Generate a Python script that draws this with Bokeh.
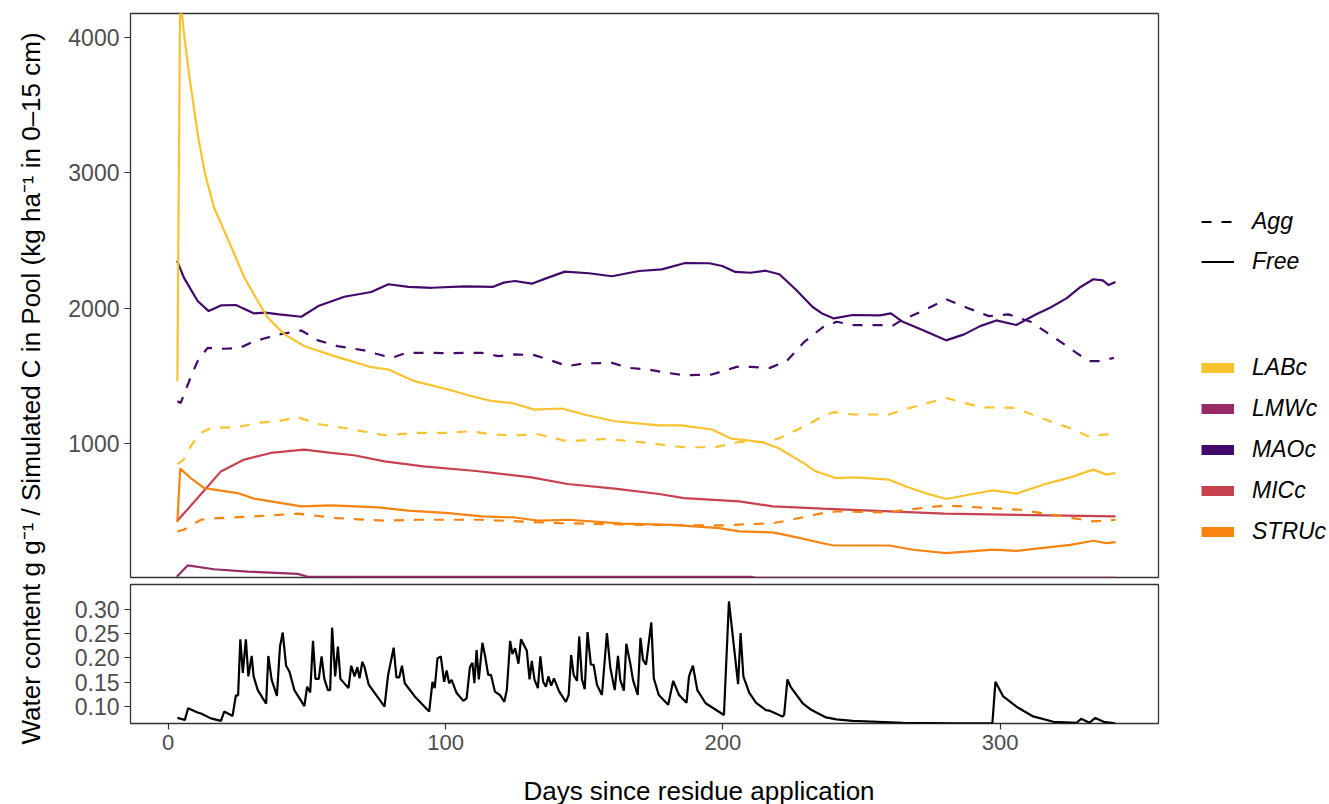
import numpy as np
from bokeh.plotting import figure
from bokeh.models import Range1d, FixedTicker, Legend, LegendItem, Label, PrintfTickFormatter
from bokeh.layouts import row, column
from bokeh.embed import file_html
from bokeh.resources import INLINE

FONT = "Liberation Sans"

# ---- simulated carbon pools (kg C ha-1, 0-15 cm) ----
labc_free_day = [3.3, 4.3, 5.7, 7.5, 10.6, 13.2, 16.5, 22.6, 27.4, 32.3, 35.9, 42.0, 49.0, 58.8, 66.0, 73.2,
                 79.4, 88.8, 101.0, 109.4, 117.0, 124.0, 132.0, 142.0, 150.0, 161.0, 177.0, 185.0, 196.0,
                 203.0, 214.0, 220.0, 229.0, 233.5, 240.7, 247.9, 260.0, 266.0, 273.0, 280.5, 290.0, 297.5,
                 305.8, 315.5, 325.3, 333.6, 338.4, 341.6]
labc_free_c = [1463, 4300, 4028, 3730, 3289, 3000, 2744, 2460, 2230, 2054, 1931, 1808, 1722, 1655, 1611, 1566,
               1549, 1463, 1401, 1352, 1315, 1302, 1253, 1261, 1217, 1167, 1137, 1137, 1106,
               1039, 1014, 970, 860, 797, 748, 753, 736, 686, 637, 593, 630, 657,
               633, 699, 753, 810, 773, 785]

labc_agg_day = [3.3, 5.6, 8.5, 11.8, 15.4, 25.0, 32.0, 39.5, 46.7, 54.0, 64.8, 78.0, 90.0, 100.0, 109.0, 116.0,
                124.0, 133.0, 144.0, 157.6, 170.0, 186.0, 197.0, 206.0, 215.0, 220.0, 230.0, 236.0, 240.0,
                247.0, 260.0, 267.5, 280.5, 293.0, 305.0, 318.0, 325.0, 332.5, 337.0, 341.0]
labc_agg_c = [851, 884, 995, 1081, 1118, 1123, 1155, 1167, 1197, 1147, 1113, 1064, 1081, 1081, 1093, 1073,
              1061, 1073, 1019, 1036, 1014, 975, 975, 1014, 1014, 1039, 1135, 1204, 1234,
              1217, 1217, 1266, 1339, 1270, 1266, 1167, 1118, 1049, 1069, 1069]

lmwc_day = [3.1, 7.0, 16.5, 28.6, 46.7, 50.0, 80.0, 150.0, 210.0, 212.0, 341.6]
lmwc_c = [20, 103, 75, 58, 41, 21, 19, 19, 18, 12, 12]

maoc_free_day = [3.2, 5.7, 10.6, 14.6, 19.0, 24.4, 27.0, 31.0, 35.0, 40.0, 48.0, 54.1, 63.5, 73.2, 79.4, 86.6,
                 95.0, 106.9, 117.0, 121.0, 125.0, 131.1, 137.0, 143.0, 151.7, 160.0, 169.8, 178.0, 186.4,
                 195.1, 199.8, 204.5, 210.0, 215.4, 220.4, 226.2, 232.4, 236.0, 240.0, 246.8, 256.6, 260.6,
                 264.9, 272.0, 280.5, 287.0, 292.8, 298.6, 305.8, 313.0, 318.0, 323.9, 329.0, 333.6, 337.0,
                 339.1, 341.6]
maoc_free_c = [2350, 2225, 2054, 1980, 2022, 2025, 2000, 1963, 1968, 1956, 1938, 2017, 2086, 2121, 2178, 2158,
               2152, 2163, 2158, 2190, 2202, 2182, 2227, 2271, 2259, 2237, 2276, 2288, 2335,
               2333, 2313, 2269, 2263, 2278, 2252, 2141, 2010, 1960, 1926, 1951, 1948, 1963,
               1901, 1840, 1764, 1808, 1869, 1911, 1877, 1956, 2005, 2074, 2158, 2215, 2207,
               2172, 2195]

maoc_agg_day = [3.3, 4.5, 8.0, 10.6, 14.2, 20.0, 26.0, 30.5, 34.6, 40.0, 48.0, 54.0, 61.0, 70.7, 75.0, 80.5,
                86.0, 91.0, 100.0, 113.0, 119.0, 125.0, 132.0, 138.0, 144.0, 150.0, 160.0, 166.0, 173.0,
                180.0, 186.0, 196.0, 205.0, 210.0, 217.0, 223.0, 229.5, 236.0, 241.0, 247.0, 258.0, 261.0,
                265.0, 272.0, 280.5, 288.0, 296.0, 303.0, 311.0, 320.0, 327.5, 332.0, 336.0, 341.0]
maoc_agg_c = [1315, 1302, 1487, 1611, 1709, 1702, 1709, 1753, 1778, 1808, 1837, 1764, 1722, 1690, 1665, 1635,
              1672, 1672, 1670, 1672, 1648, 1660, 1655, 1616, 1574, 1594, 1598, 1561, 1549,
              1524, 1507, 1512, 1568, 1568, 1561, 1611, 1755, 1860, 1901, 1877, 1877, 1869,
              1919, 1980, 2067, 2005, 1943, 1956, 1901, 1778, 1672, 1611, 1611, 1635]

micc_day = [3.3, 10.6, 19.0, 27.4, 37.0, 49.0, 58.8, 67.0, 78.0, 92.0, 111.0, 131.0, 144.0, 161.0, 177.0,
            186.0, 206.0, 218.0, 236.0, 280.0, 341.6]
micc_c = [433, 600, 797, 884, 933, 958, 933, 916, 871, 834, 800, 753, 704, 670, 630,
          600, 576, 539, 522, 485, 465]

struc_free_day = [3.3, 4.3, 8.1, 13.0, 19.0, 25.0, 31.0, 37.0, 48.0, 58.8, 75.7, 86.5, 101.0, 113.0, 125.0,
                  133.6, 144.5, 163.7, 181.7, 198.7, 206.0, 217.9, 225.1, 236.0, 240.0, 260.0, 268.6, 280.5,
                  297.5, 305.8, 325.3, 333.6, 338.4, 341.6]
struc_free_c = [423, 817, 748, 674, 655, 637, 596, 576, 539, 546, 531, 507, 489, 465, 457,
                433, 440, 411, 403, 378, 354, 347, 317, 267, 250, 250, 219, 194,
                219, 211, 255, 285, 267, 275]

struc_agg_day = [3.3, 5.6, 11.8, 17.8, 31.0, 46.7, 61.0, 78.0, 90.0, 113.0, 141.0, 170.0, 199.0, 218.0, 223.0,
                 236.0, 241.0, 260.0, 266.0, 280.5, 296.4, 307.2, 320.3, 333.6, 341.6]
struc_agg_c = [354, 366, 440, 452, 465, 485, 452, 433, 440, 440, 415, 403, 398, 415, 433,
               489, 502, 494, 514, 546, 526, 514, 472, 428, 440]

# ---- soil water content (g g-1) ----
water_day = [3.3, 6.0, 7.2, 10.6, 11.8, 15.4, 19.0, 20.2, 23.2, 24.4,
             25.2, 26.0, 26.9, 28.0, 28.9, 30.1, 30.8, 32.3, 35.3, 36.1,
             37.3, 39.2, 40.3, 41.3, 42.5, 43.7, 45.5, 49.1, 50.1, 51.2,
             52.2, 53.1, 54.3, 55.3, 56.3, 57.6, 58.4, 59.1, 60.2, 61.2,
             62.1, 65.0, 66.0, 67.2, 68.2, 69.0, 70.0, 70.8, 72.3, 78.0,
             79.3, 81.3, 82.3, 83.3, 84.3, 85.3, 88.9, 94.1, 95.3, 96.1,
             97.1, 98.3, 99.5, 100.4, 101.3, 102.2, 104.0, 106.4, 107.6, 108.8,
             109.7, 110.4, 111.2, 112.0, 113.3, 114.2, 115.4, 116.4, 117.8, 119.6,
             121.2, 122.1, 123.3, 124.1, 125.1, 126.3, 127.2, 129.3, 130.3, 131.1,
             132.1, 133.3, 134.2, 135.2, 136.2, 137.1, 138.1, 139.1, 141.0, 143.4,
             144.4, 145.3, 146.2, 147.4, 148.2, 149.2, 150.2, 151.2, 152.4, 153.4,
             154.6, 156.4, 158.2, 159.4, 161.0, 162.2, 163.0, 164.3, 165.2, 166.7,
             167.6, 169.3, 170.3, 171.2, 172.3, 174.2, 175.1, 176.9, 180.3, 182.1,
             184.2, 186.9, 187.8, 189.2, 190.8, 193.8, 200.4, 202.2, 205.5, 206.4,
             207.4, 209.5, 212.0, 215.5, 216.7, 221.5, 222.1, 223.3, 224.5, 228.8,
             232.0, 237.2, 241.0, 246.8, 264.9, 283.0, 297.2, 298.3, 301.1, 305.9,
             311.9, 319.2, 327.6, 329.2, 332.2, 334.3, 337.3, 341.5]
water_content = [0.077, 0.073, 0.097, 0.088, 0.086, 0.076, 0.071, 0.090, 0.081, 0.123,
                 0.123, 0.238, 0.169, 0.238, 0.162, 0.204, 0.162, 0.134, 0.106, 0.204,
                 0.155, 0.122, 0.223, 0.252, 0.184, 0.172, 0.134, 0.101, 0.141, 0.129,
                 0.235, 0.157, 0.157, 0.203, 0.157, 0.134, 0.134, 0.262, 0.162, 0.223,
                 0.157, 0.138, 0.184, 0.162, 0.181, 0.158, 0.192, 0.181, 0.145, 0.100,
                 0.165, 0.221, 0.160, 0.160, 0.184, 0.148, 0.121, 0.090, 0.151, 0.138,
                 0.199, 0.203, 0.151, 0.174, 0.148, 0.155, 0.128, 0.112, 0.117, 0.181,
                 0.190, 0.148, 0.216, 0.156, 0.231, 0.206, 0.165, 0.165, 0.131, 0.124,
                 0.110, 0.134, 0.235, 0.208, 0.220, 0.188, 0.238, 0.215, 0.156, 0.194,
                 0.155, 0.138, 0.203, 0.151, 0.141, 0.162, 0.143, 0.158, 0.131, 0.110,
                 0.124, 0.206, 0.165, 0.153, 0.244, 0.156, 0.136, 0.253, 0.186, 0.186,
                 0.145, 0.124, 0.251, 0.181, 0.134, 0.204, 0.155, 0.133, 0.229, 0.186,
                 0.155, 0.124, 0.241, 0.196, 0.186, 0.273, 0.158, 0.124, 0.104, 0.153,
                 0.124, 0.108, 0.162, 0.184, 0.134, 0.107, 0.083, 0.316, 0.146, 0.251,
                 0.162, 0.129, 0.108, 0.093, 0.092, 0.080, 0.083, 0.156, 0.140, 0.107,
                 0.093, 0.078, 0.074, 0.071, 0.067, 0.066, 0.066, 0.151, 0.121, 0.100,
                 0.080, 0.069, 0.067, 0.075, 0.067, 0.077, 0.069, 0.066]

pool_names = ["LABc", "LMWc", "MAOc", "MICc", "STRUc"]
pool_colors = ["#F9C22E", "#982A67", "#42096A", "#C8414E", "#F8830F"]
fraction_names = ["Agg", "Free"]
fraction_dash = ["10 10", "solid"]

c_ticks = [1000, 2000, 3000, 4000]
w_ticks = [0.10, 0.15, 0.20, 0.25, 0.30]
day_ticks = [0, 100, 200, 300]

color_of = dict(zip(pool_names, pool_colors))
dash_of = dict(zip(fraction_names, fraction_dash))


def style(p):
    p.grid.visible = False
    p.outline_line_color = "#333333"
    p.outline_line_width = 1.3
    p.background_fill_color = "white"
    p.border_fill_color = "white"
    for ax in p.axis:
        ax.axis_line_color = None
        ax.major_tick_line_color = "#333333"
        ax.major_tick_line_width = 1.2
        ax.major_tick_out = 6
        ax.major_tick_in = 0
        ax.minor_tick_line_color = None
        ax.major_label_text_font = FONT
        ax.major_label_text_font_size = "23px"
        ax.major_label_text_color = "#4D4D4D"
        ax.major_label_standoff = 5


def bare(w, h, xr, yr):
    f = figure(width=w, height=h, x_range=Range1d(*xr), y_range=Range1d(*yr),
               output_backend="svg", toolbar_location=None,
               x_axis_location=None, y_axis_location=None,
               min_border_left=0, min_border_right=0, min_border_top=0, min_border_bottom=0)
    f.grid.visible = False
    f.outline_line_color = None
    f.background_fill_color = "white"
    f.border_fill_color = "white"
    return f


days = Range1d(-13.6, 357.1)

# ---- upper panel: carbon pools ----
top = figure(width=1100, height=580, x_range=days, y_range=Range1d(14, 4176),
             output_backend="svg", toolbar_location=None, x_axis_location=None,
             min_border_left=70, min_border_right=2, min_border_top=13, min_border_bottom=3)
top.yaxis.ticker = FixedTicker(ticks=c_ticks)
style(top)

series = [
    ("MICc", "Free", micc_day, micc_c),
    ("LMWc", "Free", lmwc_day, lmwc_c),
    ("STRUc", "Agg", struc_agg_day, struc_agg_c),
    ("STRUc", "Free", struc_free_day, struc_free_c),
    ("LABc", "Agg", labc_agg_day, labc_agg_c),
    ("MAOc", "Agg", maoc_agg_day, maoc_agg_c),
    ("MAOc", "Free", maoc_free_day, maoc_free_c),
    ("LABc", "Free", labc_free_day, labc_free_c),
]
for pool, frac, d, c in series:
    top.line(d, c, line_color=color_of[pool], line_width=2.2, line_dash=dash_of[frac])

# ---- lower panel: water content ----
bot = figure(width=1269, height=184, x_range=days, y_range=Range1d(0.0655, 0.3505),
             output_backend="svg", toolbar_location=None,
             min_border_left=70, min_border_right=171, min_border_top=4, min_border_bottom=41)
bot.xaxis.ticker = FixedTicker(ticks=day_ticks)
bot.yaxis.ticker = FixedTicker(ticks=w_ticks)
bot.yaxis.formatter = PrintfTickFormatter(format="%.2f")
style(bot)
bot.xaxis.major_label_text_font_size = "22px"
bot.line(water_day, water_content, line_color="black", line_width=2.2)

# ---- legends (keys drawn from placeholder renderers holding no visible points) ----
leg = bare(169, 580, (0, 1), (0, 1))
frac_items = []
for name in fraction_names:
    r = leg.line([np.nan], [np.nan], line_color="black", line_width=2, line_dash=dash_of[name])
    frac_items.append(LegendItem(label=name, renderers=[r]))
pool_items = []
for name in pool_names:
    r = leg.line([np.nan], [np.nan], line_color=color_of[name], line_width=10)
    pool_items.append(LegendItem(label=name, renderers=[r]))

for items, loc, gap in ((frac_items, (41, 302.5), 13), (pool_items, (41, 32.5), 14)):
    lg = Legend(items=items, location=loc, orientation="vertical",
                glyph_width=33, glyph_height=27, label_height=27, spacing=gap,
                label_standoff=18, padding=0, margin=0,
                border_line_color=None, background_fill_alpha=0,
                label_text_font=FONT, label_text_font_style="italic",
                label_text_font_size="23px", label_text_color="black")
    leg.add_layout(lg, "center")

# ---- axis titles ----
ytitle = bare(60, 804, (0, 60), (0, 804))
ytitle.add_layout(Label(x=30, y=416, angle=np.pi / 2, text_align="center", text_baseline="middle",
                        text="Water content g g\u207b\u00b9 / Simulated C in Pool (kg ha\u207b\u00b9 in 0\u201315 cm)",
                        text_font=FONT, text_font_size="26px", text_color="black"))

xtitle = bare(1269, 40, (0, 1269), (0, 40))
xtitle.add_layout(Label(x=485, y=14, text_align="left", text_baseline="middle",
                        text="Days since residue application",
                        text_font=FONT, text_font_size="26px", text_color="black"))

layout = row(ytitle, column(row(top, leg), bot, xtitle))

open("out.html", "w").write(file_html(layout, INLINE))
